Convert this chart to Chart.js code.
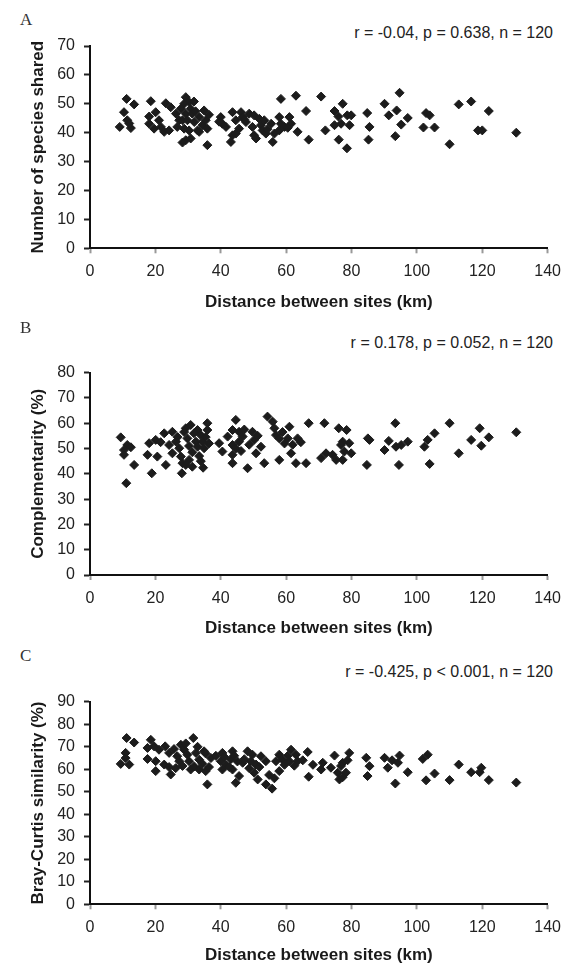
<!DOCTYPE html>
<html>
<head>
<meta charset="utf-8">
<script src="https://cdn.jsdelivr.net/npm/chart.js@4.4.1/dist/chart.umd.min.js"></script>
<style>
  body { margin: 0; background: #fff; width: 570px; height: 968px; position: relative; overflow: hidden; }
  .panel { position: absolute; left: 0; width: 570px; }
  .letter { position: absolute; left: 20px; font-family: "Liberation Serif", serif; font-size: 17px; color: #333; line-height: 1; }
  .stat { position: absolute; right: 17px; font-family: "Liberation Sans", Arial, sans-serif; font-size: 16px; color: #222; line-height: 1; white-space: nowrap; }
</style>
</head>
<body>
<div class="letter" style="top:11px">A</div>
<div class="stat" style="top:25px">r = -0.04, p = 0.638, n = 120</div>
<div class="panel" style="top:0px;height:320px"><canvas id="chartA"></canvas></div>

<div class="letter" style="top:319px">B</div>
<div class="stat" style="top:335px">r = 0.178, p = 0.052, n = 120</div>
<div class="panel" style="top:320px;height:325px"><canvas id="chartB"></canvas></div>

<div class="letter" style="top:647px">C</div>
<div class="stat" style="top:664px">r = -0.425, p &lt; 0.001, n = 120</div>
<div class="panel" style="top:645px;height:323px"><canvas id="chartC"></canvas></div>

<script>
// Distance between sites (km) and the three response variables

// Panel A - number of species shared
const distanceA = [11.2, 13.5, 10.4, 11.4, 9.1, 12.5, 18.6, 20.1, 18.1, 18.1, 21.1, 19.6, 21.7,
  23.2, 24.7, 22.7, 24.2, 26.3, 27.3, 26.7, 28.3, 29.3, 30.3, 28.8, 30.8, 29.3, 31.3, 29.8, 31.9,
  28.8, 30.3, 29.3, 28.3, 30.8, 32.9, 33.4, 34.9, 35.4, 34.4, 35.9, 33.4, 35.9, 40, 40.5, 41.6,
  43.6, 44.6, 43.6, 43.1, 46.2, 46.7, 47.7, 45.6, 44.6, 48.7, 50.2, 49.7, 50.2, 51.8, 52.3, 50.8,
  52.8, 53.8, 55.4, 55.9, 56.4, 57.9, 58.4, 57.9, 61, 61.5, 59.5, 63.5, 58.4, 63,
  70.7, 66.1, 66.9, 72, 74.8, 77.3, 78.7, 79.9, 74.8, 76.8, 79.4, 76.1, 78.6, 84.8, 85.5, 85.2,
  90.1, 91.4, 93.8, 94.7, 97.2, 95.2, 93.4, 102.8, 103.9, 102, 105.4, 110, 112.8, 116.6, 122,
  118.7, 120, 130.4,
  31.8, 32.3, 27.8, 36.4, 39.5, 47.2, 53.3, 54.3, 60.5, 76, 12.0];
const speciesShared = [51.7, 49.8, 47.1, 44.3, 42, 41.6, 50.9, 47.1, 45.6, 43.1, 44.3, 41.4, 42,
  50.2, 48.8, 40.3, 40.8, 46.6, 44.3, 42, 44.3, 52.3, 50.6, 50, 48.3, 46.6, 46.6, 44.3, 43.7,
  41.4, 40.8, 37.4, 36.6, 38, 40.8, 45.4, 47.7, 44.3, 42.6, 41.4, 40.3, 35.7, 45.4, 43.1, 42,
  47.1, 44.3, 39.1, 36.8, 47.1, 45.4, 43.7, 41.4, 39.7, 46.6, 46, 42, 39.1, 44.8, 42.6, 38,
  40.8, 39.7, 43.1, 36.8, 39.7, 45.4, 43.1, 40.8, 45.4, 43.1, 42, 40.3, 51.7, 52.8,
  52.5, 47.5, 37.6, 40.8, 47.5, 50, 46, 46, 42.6, 43.1, 42.6, 37.6, 34.6, 46.8, 42, 37.6,
  50, 46, 47.7, 53.8, 45.1, 42.8, 38.8, 46.8, 46, 41.8, 41.8, 36, 49.8, 50.8, 47.5,
  40.8, 40.8, 40,
  50.8, 47.4, 48.3, 46.2, 43.8, 44.6, 44.3, 41.2, 41.7, 45.6, 43.2];

// Panel B - complementarity (%)
const distanceB = [9.4, 11.4, 10.4, 10.4, 13.5, 11.1, 18.1, 20.1, 17.6, 20.6,
  18.9, 22.7, 25.2, 24.2, 23.2, 26.3, 27.3, 25.2, 27.8, 28.3,
  28.1, 29.3, 30.8, 29.8, 30.3, 29.3, 31.3, 32.9, 33.9, 32.4,
  34.4, 32.9, 34.9, 35.9, 35.9, 34.6, 39.5, 40.5, 42.1, 43.6,
  44.6, 43.6, 43.6, 43.6, 45.6, 46.7, 45.6, 48.2, 49.7, 50.2,
  50.8, 52.3, 53.3, 54.3, 55.9, 56.9, 57.9, 57.9, 61, 61.5,
  60.5, 63.5, 63, 66.1, 66.9, 71.7, 70.7, 72.2, 76.1, 78.5,
  77.3, 79.3, 76.8, 74.2, 75.3, 77.3, 79.9, 77.8, 85, 85.5,
  84.7, 93.4, 91.4, 90.1, 93.6, 95.2, 97.2, 94.5, 102.3, 103.3,
  105.4, 103.9, 110, 112.8, 116.6, 119.2, 122, 119.7, 130.4,
  28.8, 31.8, 30.3, 31.3, 33.4, 35.4, 36.4, 26.8, 21.6, 44.6,
  46.2, 47.2, 51.3, 48.7, 58.9, 59.5, 62.0, 64.5, 56.4, 12.5, 33.9];
const complementarity = [54.4, 51.4, 49.4, 47.5, 43.5, 36.3, 52.1, 53.4, 47.5, 46.8,
  40.2, 56, 56.6, 51.4, 43.5, 52.7, 50.1, 48.1, 46.8, 44.2,
  40.2, 58, 59.3, 54, 45.5, 43.5, 42.8, 57.3, 55.3, 52.7,
  52.7, 50.7, 50.1, 60, 57.3, 42.4, 52.1, 48.8, 54.7, 57.3,
  61.3, 51.4, 47.5, 44.2, 56.6, 54.7, 52.7, 42.2, 56.6, 53.4,
  48.1, 50.7, 44.2, 62.6, 60.6, 55.3, 54, 45.5, 58.6, 48.1,
  54, 54, 44.2, 44.2, 60, 60, 46.2, 48.1, 58, 57.3,
  52.7, 52.1, 51.4, 47.5, 45.5, 45.5, 48.1, 48.8, 54, 53.4,
  43.5, 60, 53, 49.4, 50.7, 51.4, 52.7, 43.5, 50.7, 53.4,
  56, 43.9, 60, 48.1, 53.4, 58, 54.4, 51.1, 56.4,
  56.5, 56.0, 51.0, 48.5, 47.0, 54.5, 52.0, 54.5, 52.5, 50.0,
  49.0, 57.5, 55.0, 51.5, 56.5, 52.0, 51.5, 52.5, 58.0, 50.5, 45.0];

// Panel C - Bray-Curtis similarity (%)
const distanceC = [11.2, 13.5, 10.9, 9.4, 12, 10.9, 18.6, 17.6, 19.6, 21.1,
  17.6, 20.1, 20.1, 23, 24.2, 22.7, 24.7, 24.2, 26.7, 27.8,
  28.8, 27.3, 29.8, 31.6, 30.3, 30.8, 32.4, 33.4, 34.9, 35.4,
  31.9, 33.4, 35.4, 35.9, 37, 40.5, 40, 40.5, 43.6, 43.1,
  41.6, 43.6, 44.6, 45.6, 46.7, 48.2, 49.7, 49.2, 50.8, 50.2,
  51.3, 52.3, 53.8, 53.8, 55.7, 57.9, 56.9, 58.9, 57.9, 61.5,
  61, 63.5, 62.5, 66.6, 66.9, 70.7, 71.2, 74.8, 79.3, 77.3,
  73.7, 75.8, 78.3, 76.3, 77.3, 84.5, 85.5, 84.9, 90.1, 91.1,
  94.7, 94.2, 93.4, 97.2, 101.8, 103.3, 102.8, 105.4, 110, 112.8,
  116.6, 119.7, 119.2, 122, 130.4,
  25.7, 26.2, 28.3, 29.3, 32.9, 34.4, 36.4, 38.5, 41.1, 42.6,
  44.1, 45.1, 47.2, 48.7, 51.8, 54.8, 56.4, 59.5, 60.5, 63.0,
  65.1, 68.2, 76.8, 78.8, 92.4];
const brayCurtis = [73.9, 71.9, 67.3, 62.4, 62.1, 65, 73.1, 69.5, 70.2, 68.7,
  64.6, 63.6, 59.2, 70.2, 67.3, 62.1, 57.7, 61, 65.8, 70.9,
  68.7, 63.6, 66.5, 73.9, 63.6, 59.9, 67.3, 64.3, 68, 67,
  61.3, 59.9, 59.2, 53.3, 65, 67.3, 63.6, 59.9, 68, 64.5,
  62, 59.9, 54, 57, 62.9, 68, 66.5, 63.6, 62.1, 58.5,
  55.5, 65.8, 63.6, 53.3, 51.4, 66.5, 63.6, 64.3, 59.2, 68.7,
  63.6, 63.6, 61.6, 67.7, 56.7, 59.9, 62.9, 66.1, 67.3, 62.9,
  60.7, 58.5, 58.5, 55.5, 56.5, 65.1, 61.4, 57, 65.1, 60.7,
  66.1, 62.9, 53.7, 58.7, 64.6, 66.5, 55.1, 58.1, 55.2, 62.1,
  58.7, 60.7, 58.7, 55.2, 54.1,
  69.0, 60.5, 61.5, 71.5, 70.0, 62.5, 61.0, 66.0, 65.5, 61.0,
  66.0, 63.5, 64.5, 60.5, 61.0, 57.5, 56.0, 62.0, 66.0, 66.5,
  64.0, 62.0, 61.5, 64.0, 64.0];

const xTitle = 'Distance between sites (km)';
const xTicks = { min: 0, max: 140, step: 20 };

const SANS = '"Liberation Sans", Arial, sans-serif';
const INK = '#1c1c1c';

function makeChart(id, xs, ys, yMax, yTitle, box) {
    const canvas = document.getElementById(id);
    canvas.width = 570;
    canvas.height = box.h;
    canvas.style.width = '570px';
    canvas.style.height = box.h + 'px';

    const points = xs.map((x, i) => ({ x: x, y: ys[i] }));

    return new Chart(canvas.getContext('2d'), {
        type: 'scatter',
        data: {
            datasets: [{
                data: points,
                pointStyle: 'rectRot',
                pointRadius: 4.5,
                pointBorderWidth: 1,
                backgroundColor: INK,
                borderColor: INK
            }]
        },
        options: {
            responsive: false,
            animation: false,
            events: [],
            layout: { padding: { left: 0, right: 20.5, top: box.padTop, bottom: box.padBottom } },
            plugins: { legend: { display: false }, tooltip: { enabled: false } },
            scales: {
                x: {
                    type: 'linear',
                    min: xTicks.min,
                    max: xTicks.max,
                    afterFit: s => { s.height = box.xH; },
                    border: { color: '#111', width: 2 },
                    grid: { drawOnChartArea: false, drawTicks: true, tickLength: 5, tickWidth: 2, tickColor: '#999' },
                    ticks: { stepSize: xTicks.step, padding: 9, color: '#222', font: { family: SANS, size: 16 }, maxRotation: 0 },
                    title: { display: true, text: xTitle, color: '#1a1a1a', padding: { top: 0, bottom: 0 },
                             font: { family: SANS, size: 17, weight: 'bold' } }
                },
                y: {
                    type: 'linear',
                    min: 0,
                    max: yMax,
                    afterFit: s => { s.width = 90; },
                    border: { color: '#111', width: 2 },
                    grid: { drawOnChartArea: false, drawTicks: true, tickLength: 6, tickWidth: 2, tickColor: '#222' },
                    ticks: { stepSize: 10, padding: 9, color: '#222', font: { family: SANS, size: 16 } },
                    title: { display: true, text: yTitle, color: '#1a1a1a', padding: { top: 28, bottom: 0 },
                             font: { family: SANS, size: 17, weight: 'bold' } }
                }
            }
        }
    });
}

makeChart('chartA', distanceA, speciesShared, 70, 'Number of species shared',
    { h: 320, padTop: 46, padBottom: 7.8, xH: 63.9 });
makeChart('chartB', distanceB, complementarity, 80, 'Complementarity (%)',
    { h: 325, padTop: 52.6, padBottom: 6.8, xH: 63.2 });
makeChart('chartC', distanceC, brayCurtis, 90, 'Bray-Curtis similarity (%)',
    { h: 323, padTop: 56.8, padBottom: 2.8, xH: 60.9 });
</script>
</body>
</html>
